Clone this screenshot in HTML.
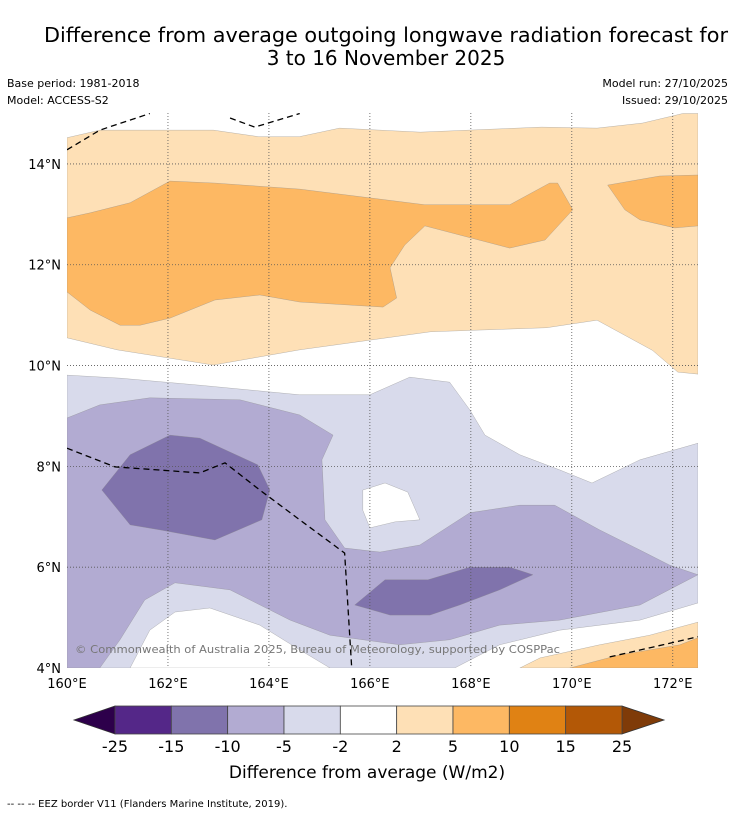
<!DOCTYPE html>
<html><head><meta charset="utf-8"><style>
body{margin:0;background:#fff;font-family:"DejaVu Sans","Liberation Sans",sans-serif;}
svg{display:block;font-family:"DejaVu Sans","Liberation Sans",sans-serif;}
</style></head><body>
<svg id="c" width="736" height="816" xmlns="http://www.w3.org/2000/svg">
<text x="386" y="42" font-size="20" text-anchor="middle" textLength="684" lengthAdjust="spacingAndGlyphs">Difference from average outgoing longwave radiation forecast for</text>
<text x="386" y="65" font-size="20" text-anchor="middle">3 to 16 November 2025</text>
<text x="7" y="87" font-size="11">Base period: 1981-2018</text>
<text x="7" y="104" font-size="11">Model: ACCESS-S2</text>
<text x="728" y="87" font-size="11" text-anchor="end">Model run: 27/10/2025</text>
<text x="728" y="104" font-size="11" text-anchor="end">Issued: 29/10/2025</text>
<g id="map"></g>
<g id="cbar"></g>
<text x="367" y="778" font-size="17" text-anchor="middle">Difference from average (W/m2)</text>
<text x="7" y="807" font-size="10">-- -- -- EEZ border V11 (Flanders Marine Institute, 2019).</text>
</svg>
<script>
const lonTicks=[160,162,164,166,168,170,172];
const latTicks=[4,6,8,10,12,14];
const levels=[-25,-15,-10,-5,-2,2,5,10,15,25];
const levelColors=["#542788","#8073ac","#b2abd2","#d8daeb","#ffffff","#fee0b6","#fdb863","#e08214","#b35806"];
const extColors=["#2d004b","#7f3b08"];
const lightOrange=[[160,14.52],[160.65,14.67],[162.9,14.67],[163.8,14.54],[164.6,14.54],[165.4,14.71],[167,14.63],[169.4,14.73],[170.5,14.71],[171.4,14.81],[172.2,15.0],[172.5,15.0],[172.5,9.83],[172.1,9.87],[171.6,10.3],[170.5,10.9],[169.5,10.75],[167.2,10.67],[164.6,10.31],[162.9,10.01],[161,10.31],[160,10.55]];
const midOrange=[[160,12.93],[160.46,13.03],[161.25,13.23],[162.04,13.66],[162.93,13.62],[164.61,13.5],[167.09,13.19],[168.77,13.19],[169.56,13.62],[169.72,13.62],[170.02,13.09],[169.47,12.49],[168.77,12.33],[167.09,12.77],[166.69,12.39],[166.4,11.94],[166.53,11.34],[166.26,11.16],[164.61,11.26],[163.82,11.4],[162.93,11.3],[162.04,10.94],[161.45,10.8],[161.05,10.8],[160.46,11.1],[160,11.46]];
const midOrangeRight=[[170.71,13.58],[171.74,13.76],[172.5,13.78],[172.5,12.77],[172.04,12.73],[171.35,12.89],[171.05,13.09]];
const lightPurple=[[160,9.81],[161.05,9.75],[162.63,9.61],[164.61,9.42],[166.0,9.42],[166.79,9.77],[167.58,9.67],[167.98,9.12],[168.28,8.62],[168.97,8.23],[169.76,7.93],[170.4,7.67],[171.35,8.13],[172.5,8.46],[172.5,5.29],[171.35,4.95],[169.76,4.75],[168.57,4.46],[167.68,4.0],[160,4.0]];
const whiteBottom=[[161.25,4.0],[161.64,4.75],[162.14,5.11],[162.83,5.19],[163.82,4.85],[164.61,4.36],[165.21,4.0]];
const midPurple=[[160,8.96],[160.65,9.22],[161.64,9.36],[163.43,9.32],[164.61,9.02],[165.27,8.62],[165.05,8.13],[165.11,6.94],[165.5,6.38],[166.2,6.30],[166.99,6.44],[167.98,7.08],[168.97,7.23],[169.66,7.23],[170.55,6.74],[171.35,6.34],[171.94,6.04],[172.5,5.85],[171.35,5.25],[169.76,4.95],[168.57,4.85],[167.58,4.56],[166.59,4.46],[165.21,4.65],[164.42,4.95],[163.23,5.55],[162.14,5.69],[161.54,5.35],[161.05,4.56],[160.65,4.0],[160,4.0]];
const darkLeft=[[160.69,7.53],[161.25,8.23],[162.04,8.62],[162.63,8.56],[163.78,8.03],[164.02,7.53],[163.86,6.94],[162.93,6.54],[161.84,6.74],[161.25,6.84]];
const darkRight=[[165.70,5.25],[166.3,5.75],[167.15,5.75],[167.98,6.0],[168.77,6.0],[169.23,5.85],[168.57,5.55],[167.78,5.25],[167.19,5.05],[166.4,5.05]];
const whiteIsland=[[165.86,7.53],[166.30,7.67],[166.75,7.49],[166.99,6.94],[166.5,6.9],[166.0,6.78],[165.86,7.13]];
const brLight=[[168.97,4.0],[169.37,4.2],[170.55,4.46],[171.54,4.65],[172.5,4.91],[172.5,4.0]];
const brMid=[[169.96,4.0],[170.95,4.26],[172.14,4.46],[172.5,4.6],[172.5,4.0]];
const eez1=[[160,14.28],[160.65,14.67],[161.64,15.0]];
const eez2=[[163.23,14.91],[163.72,14.73],[164.61,15.0]];
const eez3=[[160,8.36],[160.95,7.99],[162.63,7.87],[163.13,8.07],[163.82,7.53],[164.61,6.94],[165.5,6.28],[165.64,4.0]];
const eez4=[[170.75,4.22],[171.54,4.4],[172.5,4.62]];

const NS="http://www.w3.org/2000/svg";
const X0=67,X1=698,Y0=113,Y1=668;
const LON0=160,LON1=172.5,LAT0=4,LAT1=15.01;
function xs(lon){return X0+(lon-LON0)/(LON1-LON0)*(X1-X0);}
function ys(lat){return Y1-(lat-LAT0)/(LAT1-LAT0)*(Y1-Y0);}
function mk(tag,attrs,parent){const e=document.createElementNS(NS,tag);for(const k in attrs)e.setAttribute(k,attrs[k]);parent.appendChild(e);return e;}
const map=document.getElementById('map');
const clip=mk('clipPath',{id:'mc'},map);
mk('rect',{x:X0,y:Y0,width:X1-X0,height:Y1-Y0},clip);
const g=mk('g',{'clip-path':'url(#mc)'},map);
function poly(pts,fill,name){const p=mk('polygon',{points:pts.map(q=>xs(q[0])+','+ys(q[1])).join(' '),fill:fill,stroke:'#888',"stroke-width":0.3},g);

}
poly(lightOrange,levelColors[5],'contour-2-5-north');
poly(midOrange,levelColors[6],'contour-5-10-west');
poly(midOrangeRight,levelColors[6],'contour-5-10-east');
poly(lightPurple,levelColors[3],'contour-neg5-neg2');
poly(whiteBottom,'#ffffff','contour-neutral-south');
poly(midPurple,levelColors[2],'contour-neg10-neg5');
poly(darkLeft,levelColors[1],'contour-neg15-neg10-west');
poly(darkRight,levelColors[1],'contour-neg15-neg10-east');
poly(whiteIsland,'#ffffff','contour-neutral-island');
poly(brLight,levelColors[5],'contour-2-5-southeast');
poly(brMid,levelColors[6],'contour-5-10-southeast');
lonTicks.forEach(l=>{if(l>LON0){const ln=mk('line',{x1:xs(l),x2:xs(l),y1:Y0,y2:Y1,stroke:'#555','stroke-width':0.8,'stroke-dasharray':'1,2'},g);

}});
latTicks.forEach(l=>{if(l>LAT0){const ln=mk('line',{x1:X0,x2:X1,y1:ys(l),y2:ys(l),stroke:'#555','stroke-width':0.8,'stroke-dasharray':'1,2'},g);

}});
[eez1,eez2,eez3,eez4].forEach((e,i)=>{const pl=mk('polyline',{points:e.map(q=>xs(q[0])+','+ys(q[1])).join(' '),fill:'none',stroke:'#000','stroke-width':1.3,'stroke-dasharray':'6,4'},g);

});
const cp=mk('text',{x:75,y:653,'font-size':11,fill:'#777',textLength:485,lengthAdjust:'spacingAndGlyphs'},map);
cp.textContent='© Commonwealth of Australia 2025, Bureau of Meteorology, supported by COSPPac';


lonTicks.forEach(l=>{const t=mk('text',{x:xs(l),y:688,'font-size':13,'text-anchor':'middle'},map);t.textContent=l+'°E';

});
latTicks.forEach(l=>{const t=mk('text',{x:61,y:ys(l)+5,'font-size':13,'text-anchor':'end'},map);t.textContent=l+'°N';

});
const cb=document.getElementById('cbar');
const CB0=115,CB1=622,CBT=706,CBB=734,n=levelColors.length,w=(CB1-CB0)/n;
const lt=mk('polygon',{points:`${CB0},${CBT} ${CB0-41},${(CBT+CBB)/2} ${CB0},${CBB}`,fill:extColors[0],stroke:'#333','stroke-width':0.8},cb);


const rt=mk('polygon',{points:`${CB1},${CBT} ${CB1+42},${(CBT+CBB)/2} ${CB1},${CBB}`,fill:extColors[1],stroke:'#333','stroke-width':0.8},cb);


levelColors.forEach((c,i)=>{const r=mk('rect',{x:CB0+i*w,y:CBT,width:w,height:CBB-CBT,fill:c,stroke:'#444','stroke-width':0.8},cb);

});
levels.forEach((v,i)=>{const t=mk('text',{x:CB0+i*w,y:752,'font-size':16,'text-anchor':'middle'},cb);t.textContent=v;

});
</script>
</body></html>
